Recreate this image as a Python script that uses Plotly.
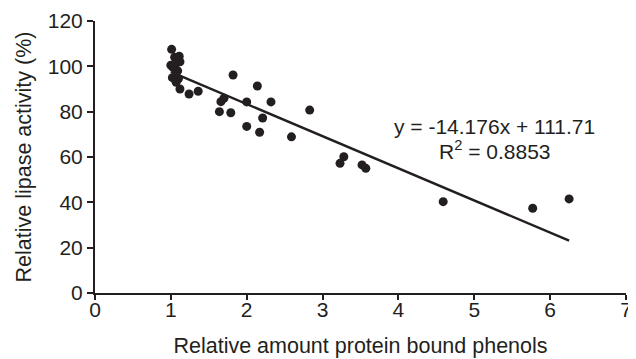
import plotly.graph_objects as go

# Data
phenols = [1.00, 1.01, 1.05, 1.11, 1.12, 1.06, 1.03, 1.09, 1.02, 1.10, 1.07, 1.12,
           1.24, 1.36, 1.82, 2.14, 1.66, 1.70, 2.00, 2.32, 1.64, 1.79, 2.83, 2.21,
           2.00, 2.17, 2.59, 3.28, 3.23, 3.52, 3.57, 4.59, 5.77, 6.25]
lipase = [100.5, 107.5, 104.0, 104.5, 102.0, 101.0, 99.5, 98.0, 95.0, 94.5, 93.0, 90.0,
          87.8, 89.0, 96.2, 91.3, 84.4, 85.9, 84.3, 84.3, 80.0, 79.5, 80.7, 77.2,
          73.5, 70.9, 68.9, 60.1, 57.2, 56.5, 55.0, 40.3, 37.4, 41.5]
slope = -14.176
intercept = 111.71
fit_x = [min(phenols), max(phenols)]
fit_y = [slope * v + intercept for v in fit_x]

x_ticks = [0, 1, 2, 3, 4, 5, 6, 7]
y_ticks = [0, 20, 40, 60, 80, 100, 120]

FONT = "Liberation Sans, Arial, sans-serif"
INK = "#231f20"
FS = 21

fig = go.Figure()
fig.add_trace(go.Scatter(x=fit_x, y=fit_y, mode="lines",
                         line=dict(color=INK, width=2.5), showlegend=False,
                         hoverinfo="skip"))
fig.add_trace(go.Scatter(x=phenols, y=lipase, mode="markers",
                         marker=dict(color=INK, size=9), showlegend=False))

fig.add_annotation(x=5.27, y=(293 - 126) / 2.2667, xref="x", yref="y",
                   text="y = -14.176x + 111.71",
                   showarrow=False, font=dict(family=FONT, size=FS, color=INK))
fig.add_annotation(x=5.27, y=(293 - 150) / 2.2667, xref="x", yref="y",
                   text="R<sup>2</sup> = 0.8853",
                   showarrow=False, font=dict(family=FONT, size=FS, color=INK))

fig.update_layout(
    width=636, height=359,
    margin=dict(l=87, r=18, t=13, b=74),
    paper_bgcolor="white", plot_bgcolor="white",
    font=dict(family=FONT, size=FS, color=INK),
)
fig.update_xaxes(range=[0, 7], tickvals=x_ticks, showgrid=False, zeroline=False,
                 showline=True, linecolor=INK, linewidth=2, automargin=False,
                 ticks="outside", ticklen=5, tickwidth=2, tickcolor=INK,
                 ticklabelstandoff=-8, ticklabeloverflow="allow",
                 title=dict(text="Relative amount protein bound phenols",
                            font=dict(size=21.5), standoff=18))
fig.update_yaxes(range=[0, 120], tickvals=y_ticks, showgrid=False, zeroline=False,
                 showline=True, linecolor=INK, linewidth=2, automargin=False,
                 ticks="outside", ticklen=6, tickwidth=2, tickcolor=INK,
                 title=dict(text="Relative lipase activity (%)",
                            font=dict(size=21.5), standoff=10))

fig.write_html("out.html")
